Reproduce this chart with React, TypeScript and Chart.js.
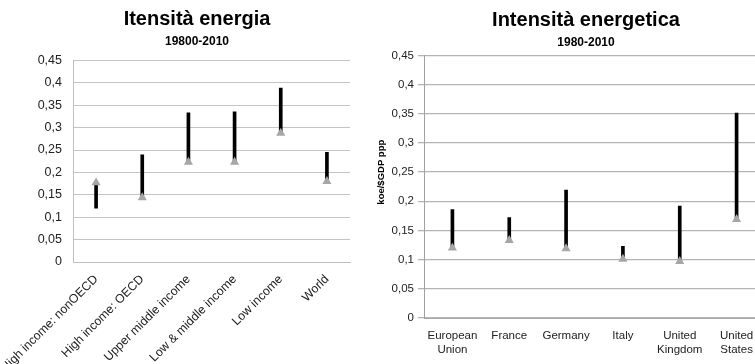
import { useEffect, useRef } from "react";
import { Chart, registerables } from "chart.js";

Chart.register(...registerables);

const FONT = "'Liberation Sans', Arial, Helvetica, sans-serif";
Chart.defaults.font.family = FONT;

// ---- Data ----
const leftTitle = "Itensità energia";
const leftSubtitle = "19800-2010";
const leftCategories = [
  "High income: nonOECD",
  "High income: OECD",
  "Upper middle income",
  "Low & middle income",
  "Low income",
  "World",
];
const left1980 = [0.12, 0.239, 0.333, 0.335, 0.388, 0.245];
const left2010 = [0.177, 0.144, 0.223, 0.223, 0.288, 0.18];

const rightTitle = "Intensità energetica";
const rightSubtitle = "1980-2010";
const rightAxisTitle = "koe/$GDP ppp";
const rightCategories = [
  ["European", "Union"],
  "France",
  "Germany",
  "Italy",
  ["United", "Kingdom"],
  ["United", "States"],
];
const right1980 = [0.186, 0.172, 0.219, 0.123, 0.192, 0.351];
const right2010 = [0.12, 0.133, 0.119, 0.101, 0.097, 0.169];

const yMin = 0;
const yMax = 0.45;
const yStep = 0.05;

const fmt = (v: number | string) =>
  Number(Number(v).toFixed(2)).toString().replace(".", ",");

function buildConfig(opts: {
  labels: any[];
  start: number[];
  end: number[];
  title: string;
  subtitle: string;
  left: boolean;
}): any {
  const { labels, start, end, title, subtitle, left } = opts;
  return {
    type: "bar",
    data: {
      labels,
      datasets: [
        {
          type: "line",
          data: end,
          showLine: false,
          pointStyle: "triangle",
          pointRadius: 5.3,
          pointBackgroundColor: "#a6a6a6",
          pointBorderWidth: 0,
          pointBorderColor: "#a6a6a6",
          order: 1,
        },
        {
          type: "bar",
          data: start.map((v, i) => [v, end[i]]),
          backgroundColor: "#000",
          barThickness: 3,
          order: 2,
        },
      ],
    },
    options: {
      responsive: false,
      animation: false,
      events: [],
      layout: { padding: 0 },
      plugins: {
        legend: { display: false },
        tooltip: { enabled: false },
        title: {
          display: true,
          text: title,
          color: "#000",
          font: { family: FONT, size: 20, weight: "bold" },
          padding: left ? { top: 7, bottom: 0 } : { top: 8, bottom: 0 },
        },
        subtitle: {
          display: true,
          text: subtitle,
          color: "#000",
          font: { family: FONT, size: 12, weight: "bold" },
          padding: left ? { top: 3, bottom: 12 } : { top: 3, bottom: 6 },
        },
      },
      scales: {
        x: {
          grid: { display: false, drawTicks: false },
          border: { display: true, color: left ? "#bfbfbf" : "#a6a6a6", width: 1 },
          ticks: left
            ? {
                minRotation: 45,
                maxRotation: 45,
                autoSkip: false,
                color: "#222",
                font: { family: FONT, size: 12.3 },
                padding: 10,
              }
            : {
                autoSkip: false,
                maxRotation: 0,
                color: "#222",
                font: { family: FONT, size: 11.5 },
                padding: 11,
              },
          afterFit: (s: any) => {
            s.height = left ? 102 : 46;
            s.paddingLeft = 0;
            s.paddingRight = 0;
          },
        },
        y: {
          min: yMin,
          max: yMax,
          ticks: {
            stepSize: yStep,
            callback: (v: any) => fmt(v),
            color: "#222",
            font: { family: FONT, size: left ? 12.5 : 11.5 },
            padding: left ? 11 : 4,
          },
          grid: left
            ? { color: "#c4c4c4", drawTicks: false, lineWidth: 1 }
            : { color: "#b4b4b4", drawTicks: true, tickLength: 6, lineWidth: 1.3 },
          border: { display: true, color: left ? "#bfbfbf" : "#a0a0a0", width: 1 },
          title: left
            ? { display: false }
            : {
                display: true,
                text: "           " + rightAxisTitle,
                color: "#000",
                font: { family: FONT, size: 9.5, weight: "bold" },
                padding: { top: 4, bottom: 0 },
              },
          afterFit: (s: any) => {
            s.width = left ? 73 : 52;
          },
        },
        yR: {
          position: "right",
          display: true,
          grid: { display: false, drawOnChartArea: false, drawTicks: false },
          border: { display: false },
          ticks: { display: false },
          afterFit: (s: any) => {
            s.width = left ? 44 : 35;
          },
        },
      },
    },
  };
}

function ChartCanvas({ config, width, height }: { config: any; width: number; height: number }) {
  const ref = useRef<HTMLCanvasElement | null>(null);
  useEffect(() => {
    if (!ref.current) return;
    const chart = new Chart(ref.current, config);
    return () => chart.destroy();
  }, [config]);
  return <canvas ref={ref} width={width} height={height} style={{ display: "block" }} />;
}

const leftConfig = buildConfig({
  labels: leftCategories,
  start: left1980,
  end: left2010,
  title: leftTitle,
  subtitle: leftSubtitle,
  left: true,
});
const rightConfig = buildConfig({
  labels: rightCategories,
  start: right1980,
  end: right2010,
  title: rightTitle,
  subtitle: rightSubtitle,
  left: false,
});

export default function App() {
  return (
    <div
      style={{
        position: "fixed",
        left: 0,
        top: 0,
        width: 755,
        height: 364,
        overflow: "hidden",
        background: "#fff",
      }}
    >
      <div style={{ position: "absolute", left: 0, top: 0 }}>
        <ChartCanvas config={leftConfig} width={394} height={364} />
      </div>
      <div style={{ position: "absolute", left: 372, top: 0 }}>
        <ChartCanvas config={rightConfig} width={428} height={364} />
      </div>
    </div>
  );
}
